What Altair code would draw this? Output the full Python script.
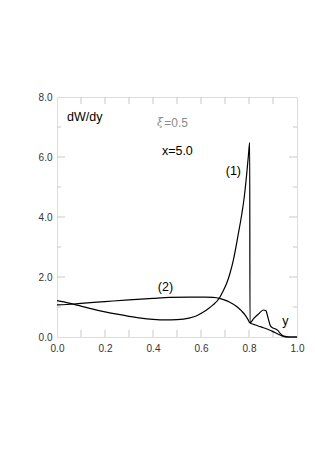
import altair as alt
import pandas as pd

# curve (1)
x1 = [0.00, 0.05, 0.10, 0.15, 0.20, 0.25, 0.30, 0.35, 0.40, 0.45, 0.50, 0.55, 0.58, 0.61, 0.63, 0.65,
      0.676, 0.69, 0.707, 0.72, 0.735, 0.756, 0.77, 0.78, 0.79, 0.797, 0.803,
      0.804, 0.82, 0.84, 0.86, 0.87, 0.88, 0.89, 0.90, 0.91, 0.92, 0.93, 0.94, 0.95, 0.97, 1.00]
y1 = [1.21, 1.13, 1.03, 0.93, 0.84, 0.76, 0.69, 0.63, 0.59, 0.57, 0.58, 0.63, 0.70, 0.83, 0.94, 1.07,
      1.29, 1.50, 1.79, 2.10, 2.57, 3.46, 4.10, 4.65, 5.40, 6.00, 6.48,
      0.47, 0.62, 0.77, 0.90, 0.88, 0.62, 0.36, 0.30, 0.27, 0.22, 0.12, 0.05, 0.02, 0.0, 0.0]
# curve (2)
x2 = [0.00, 0.07, 0.10, 0.20, 0.30, 0.40, 0.47, 0.55, 0.62, 0.65, 0.676, 0.70, 0.72, 0.75, 0.77,
      0.784, 0.796, 0.804, 0.82, 0.84, 0.86, 0.88, 0.90, 0.92, 0.94, 0.96, 1.00]
y2 = [1.07, 1.10, 1.12, 1.18, 1.24, 1.29, 1.32, 1.33, 1.33, 1.32, 1.29, 1.23, 1.16, 1.01, 0.86,
      0.73, 0.58, 0.47, 0.42, 0.36, 0.31, 0.25, 0.18, 0.10, 0.03, 0.0, 0.0]

x_major = [0.0, 0.2, 0.4, 0.6, 0.8, 1.0]
x_minor = [0.1, 0.3, 0.5, 0.7, 0.9]
y_major = [0.0, 2.0, 4.0, 6.0, 8.0]
y_minor = [1.0, 3.0, 5.0, 7.0]

labels_txt = ["dW/dy", "x=5.0", "(1)", "(2)", "y"]
labels_x = [0.042, 0.437, 0.735, 0.452, 0.952]
labels_y = [7.33, 6.2, 5.53, 1.67, 0.55]
labels_align = ["left", "left", "center", "center", "center"]

xi_sym = ["ξ"]
xi_val = ["=0.5"]
xi_x = [0.417]
xi_x2 = [0.447]
xi_y = [7.13]

rows = []
for i, (a, b) in enumerate(zip(x1, y1)):
    rows.append({"x": a, "y": b, "curve": "1", "i": i})
for i, (a, b) in enumerate(zip(x2, y2)):
    rows.append({"x": a, "y": b, "curve": "2", "i": i})
df = pd.DataFrame(rows)

xs = alt.Scale(domain=[0, 1], nice=False, zero=False)
ys = alt.Scale(domain=[0, 8], nice=False, zero=False)

W, H = 240, 240
FRAME = "#c8c8c8"

lines = alt.Chart(df).mark_line(color="black", strokeWidth=1.2, interpolate="monotone").encode(
    x=alt.X("x:Q", scale=xs, title=None,
            axis=alt.Axis(values=x_major, format=".1f", ticks=False, domain=False, grid=False,
                          labelFlush=False, labelOverlap=False,
                          labelFont="Liberation Sans", labelFontSize=10, labelColor="#333",
                          labelPadding=6)),
    y=alt.Y("y:Q", scale=ys, title=None,
            axis=alt.Axis(values=y_major, format=".1f", ticks=False, domain=False, grid=False,
                          labelFlush=False, labelOverlap=False,
                          labelFont="Liberation Sans", labelFontSize=10, labelColor="#333",
                          labelPadding=5)),
    detail="curve:N",
    order="i:Q",
)

xmaj = pd.DataFrame({"v": x_major[1:-1]})
xmin = pd.DataFrame({"v": x_minor})
ymaj = pd.DataFrame({"v": y_major[1:-1]})
ymin = pd.DataFrame({"v": y_minor})

def xticks(d, L):
    b = alt.Chart(d).mark_rule(color=FRAME, strokeWidth=1)
    return (b.encode(x=alt.X("v:Q", scale=xs), y=alt.value(H), y2=alt.value(H - L)) +
            b.encode(x=alt.X("v:Q", scale=xs), y=alt.value(0), y2=alt.value(L)))

def yticks(d, L):
    b = alt.Chart(d).mark_rule(color=FRAME, strokeWidth=1)
    return (b.encode(y=alt.Y("v:Q", scale=ys), x=alt.value(0), x2=alt.value(L)) +
            b.encode(y=alt.Y("v:Q", scale=ys), x=alt.value(W), x2=alt.value(W - L)))

ticks = xticks(xmaj, 7) + xticks(xmin, 7) + yticks(ymaj, 8) + yticks(ymin, 4)

lab = pd.DataFrame({"t": labels_txt, "x": labels_x, "y": labels_y, "a": labels_align})
texts = []
for al in ["left", "center"]:
    texts.append(alt.Chart(lab[lab.a == al]).mark_text(
        align=al, baseline="middle", font="Liberation Sans", fontSize=12.5, color="black"
    ).encode(x=alt.X("x:Q", scale=xs), y=alt.Y("y:Q", scale=ys), text="t:N"))

xi_a = alt.Chart(pd.DataFrame({"t": xi_sym, "x": xi_x, "y": xi_y})).mark_text(
    align="left", baseline="middle", font="DejaVu Serif", fontStyle="italic", fontSize=11,
    color="#8a8a8a"
).encode(x=alt.X("x:Q", scale=xs), y=alt.Y("y:Q", scale=ys), text="t:N")
xi_b = alt.Chart(pd.DataFrame({"t": xi_val, "x": xi_x2, "y": xi_y})).mark_text(
    align="left", baseline="middle", font="Liberation Sans", fontSize=12, color="#8a8a8a"
).encode(x=alt.X("x:Q", scale=xs), y=alt.Y("y:Q", scale=ys), text="t:N")

chart = alt.layer(ticks, lines, *texts, xi_a, xi_b).properties(
    width=W, height=H,
    autosize=alt.AutoSizeParams(type="none"),
    padding={"left": 49, "top": 89, "right": 10, "bottom": 100},
).configure_view(stroke=FRAME, strokeWidth=1).configure(background="white")

chart.save("out.html", embed_options={"renderer": "svg", "actions": False})
